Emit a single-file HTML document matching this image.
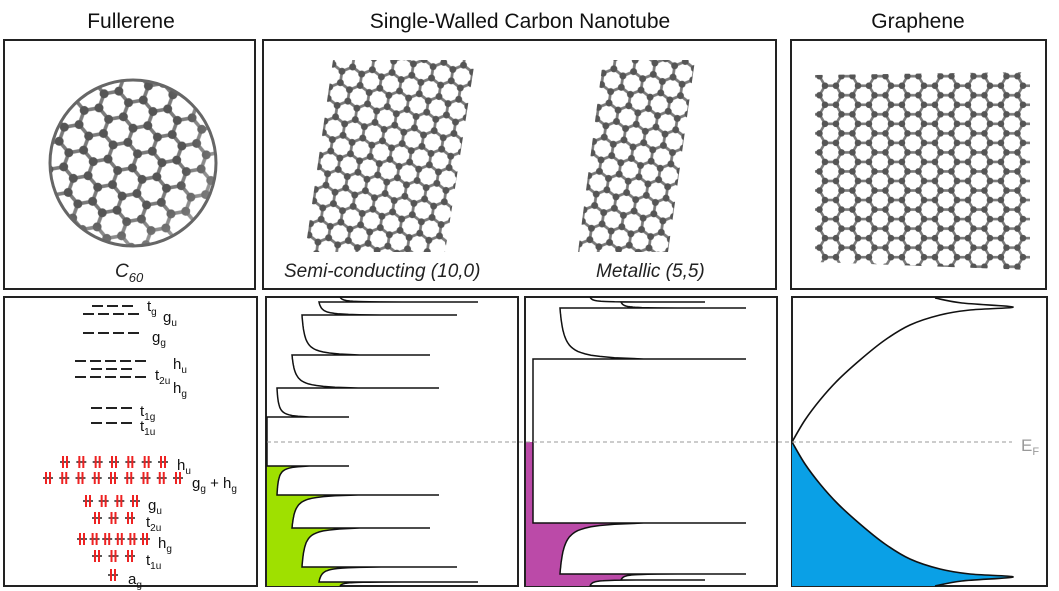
<!DOCTYPE html>
<html><head><meta charset="utf-8"><style>
body{margin:0;background:#fff;width:1059px;height:591px;overflow:hidden;font-family:"Liberation Sans",sans-serif}
svg{display:block}
</style></head><body>
<svg id="fig" width="1059" height="591" viewBox="0 0 1059 591">
<defs>
<pattern id="hex" width="17.32" height="30" patternUnits="userSpaceOnUse">
<path d="M8.66,0 L17.32,5 L17.32,15 L8.66,20 L0,15 L0,5 Z M8.66,20 L8.66,30" fill="none" stroke="#7a7a7a" stroke-width="2.4"/>
<g fill="#555"><circle cx="8.66" cy="0" r="3"/><circle cx="17.32" cy="5" r="3"/><circle cx="17.32" cy="15" r="3"/><circle cx="8.66" cy="20" r="3"/><circle cx="0" cy="15" r="3"/><circle cx="0" cy="5" r="3"/><circle cx="8.66" cy="30" r="3"/></g>
</pattern>
<pattern id="hexT" href="#hex" patternTransform="rotate(8) scale(1.15)"/>
<pattern id="hexG" href="#hex" patternTransform="rotate(90) scale(1.1)"/>
<pattern id="hexF" href="#hex" patternTransform="rotate(20) scale(1.5)"/>
<radialGradient id="shade" cx="0.4" cy="0.4" r="0.7"><stop offset="0.6" stop-color="#fff" stop-opacity="0"/><stop offset="1" stop-color="#fff" stop-opacity="0.3"/></radialGradient>
</defs>

<g font-size="21" fill="#111" text-anchor="middle">
<text x="131" y="28">Fullerene</text>
<text x="520" y="28">Single-Walled Carbon Nanotube</text>
<text x="918" y="28">Graphene</text>
</g>

<g fill="none" stroke="#222" stroke-width="2">
<rect x="4" y="40" width="251" height="249"/>
<rect x="263" y="40" width="513" height="249"/>
<rect x="791" y="40" width="255" height="249"/>
<rect x="4" y="297" width="253" height="289"/>
<rect x="266" y="297" width="252" height="289"/>
<rect x="525" y="297" width="252" height="289"/>
<rect x="792" y="297" width="255" height="289"/>
</g>

<g>
<circle cx="133" cy="163" r="83" fill="url(#hexF)"/>
<circle cx="133" cy="163" r="83" fill="url(#shade)" stroke="#666" stroke-width="3"/>
</g>
<polygon points="333,60 475,60 445,252 305,252" fill="url(#hexT)"/>
<polygon points="603,60 695,60 668,252 578,252" fill="url(#hexT)"/>
<polygon points="815,75 1030,72 1030,270 815,262" fill="url(#hexG)"/>

<g font-size="19" font-style="italic" fill="#222">
<text x="115" y="277">C<tspan font-size="13" dy="5">60</tspan></text>
<text x="284" y="277">Semi-conducting (10,0)</text>
<text x="596" y="277">Metallic (5,5)</text>
</g>

<g id="levels"></g>
<g id="dos"></g>
</svg>
<script>
// ---- Fullerene levels ----
const levelY=[306,314,333,361,369,377,408,423];
const levelCount=[3,4,4,5,3,5,3,3];
const levelX0=[92,83,83,75,91,75,91,91];
const occY=[462,478,501,518,539,556,575];
const occCount=[7,9,4,3,6,3,1];
const occX0=[60,43,83,92,77,92,108];
const occX1=[168,183,140,135,150,135,118];
const labels=[
 ["t","g",147,306],["g","u",163,317],["g","g",152,337],["h","u",173,364],["t","2u",155,375],["h","g",173,388],
 ["t","1g",140,411],["t","1u",140,426],["h","u",177,465],["g","g",192,483],["g","u",148,505],["t","2u",146,522],
 ["h","g",158,543],["t","1u",146,560],["a","g",128,579]];
const NS="http://www.w3.org/2000/svg";
const lv=document.getElementById('levels');
function mk(tag,attrs,parent){const e=document.createElementNS(NS,tag);for(const k in attrs)e.setAttribute(k,attrs[k]);parent.appendChild(e);return e;}
levelY.forEach((y,i)=>{for(let j=0;j<levelCount[i];j++){
 const l=mk('line',{x1:levelX0[i]+j*15,x2:levelX0[i]+j*15+11,y1:y,y2:y,stroke:'#222','stroke-width':2},lv);
 
 }});
occY.forEach((y,i)=>{const n=occCount[i];const step=n>1?(occX1[i]-occX0[i]-10)/(n-1):0;
 for(let j=0;j<n;j++){
 const x=occX0[i]+j*step+5;
 const g=mk('g',{},lv);
 
 
 mk('line',{x1:x-5,x2:x+5,y1:y,y2:y,stroke:'#222','stroke-width':1.5},g);
 mk('line',{x1:x-2,x2:x-2,y1:y-6,y2:y+6,stroke:'#e22','stroke-width':2},g);
 mk('line',{x1:x+2,x2:x+2,y1:y-6,y2:y+6,stroke:'#e22','stroke-width':2},g);}});
labels.forEach(L=>{const t=mk('text',{x:L[2],y:L[3]+5,'font-size':15,fill:'#111'},lv);
 
 
 t.textContent=L[0];const s=mk('tspan',{'font-size':10,dy:4},t);s.textContent=L[1];
 if(L[3]===483){const s2=mk('tspan',{dy:-4},t);s2.textContent=' + h';const s3=mk('tspan',{'font-size':10,dy:4},t);s3.textContent='g';}});

// ---- DOS data (energy in units, Ef=0) ----
const semiCondE=[0.5,1.08,1.74,2.54,2.8];
const semiValE=[-0.48,-1.06,-1.72,-2.5,-2.8];
const semiTips=[0.82,1.72,1.63,1.90,2.11];
const semiBases=[0.10,0.25,0.35,0.52,0.73];
const metFlat=0.07;
const metCondE=[1.66,2.68,2.8];
const metValE=[-1.62,-2.64,-2.76];
const metTips=[2.2,2.2,1.79];
const metBases=[0.34,0.95,0.64];
const grapheneE=[0,0.44,0.84,1.24,1.64,2.04,2.34,2.54,2.64,2.7];
const grapheneD=[0,0.13,0.28,0.46,0.68,0.93,1.18,1.48,1.78,2.21];
const EF_Y=442, PX_E=50, PX_D=100, E_TOP=2.9, E_BOT=-2.88;
function yE(e){return EF_Y-e*PX_E;}
function xD(left,d){return left+d*PX_D;}

const dos=document.getElementById('dos');
function band(left,flat,spikes,tips,bases,endE){
 const pts=[[xD(left,flat),yE(0)]];
 for(let i=0;i<spikes.length;i++){
  const e=spikes[i];
  pts.push([pts[pts.length-1][0],yE(e)]);
  pts.push([xD(left,tips[i]),yE(e)]);
  const eN=i+1<spikes.length?spikes[i+1]:endE;
  const C=(tips[i]-bases[i])*0.45,k=0.05,n=k/(1+k);
  for(let j=0;j<=40;j++){const t=j/40;
   const d=bases[i]+C*(k/(t+k)-n)/(1-n);
   pts.push([xD(left,d),yE(e+(eN-e)*t)]);}
 }
 return pts;
}
function poly(pts){return pts.map((p,i)=>(i?'L':'M')+p[0].toFixed(1)+','+p[1].toFixed(1)).join(' ');}
function drawBand(pts,left,endE,fill,name){
 if(fill){const f=mk('path',{d:poly(pts)+' L'+left+','+yE(endE)+' L'+left+','+yE(0)+' Z',fill:fill,stroke:'none'},dos);
  
  }
 const p=mk('path',{d:poly(pts),fill:'none',stroke:'#111','stroke-width':1.5},dos);
 
 
}
const SL=267, ML=526;
drawBand(band(SL,0,semiValE,semiTips,semiBases,E_BOT),SL,E_BOT,'#9fe000','semi-valence-dos');
drawBand(band(SL,0,semiCondE,semiTips,semiBases,E_TOP),SL,E_TOP,null,'semi-conduction-dos');
drawBand(band(ML,metFlat,metValE,metTips,metBases,E_BOT),ML,E_BOT,'#bb4aa8','metallic-valence-dos');
drawBand(band(ML,metFlat,metCondE,metTips,metBases,E_TOP),ML,E_TOP,null,'metallic-conduction-dos');

// graphene
const GL=792;
function gPts(sign){const pts=grapheneE.map((e,i)=>[xD(GL,grapheneD[i]),yE(sign*e)]);
 pts.push([xD(GL,1.7),yE(sign*2.78)]);pts.push([xD(GL,1.43),yE(sign*2.88)]);return pts;}
function smooth(pts){let d='M'+pts[0][0]+','+pts[0][1];
 for(let i=0;i<pts.length-1;i++){const p0=pts[Math.max(0,i-1)],p1=pts[i],p2=pts[i+1],p3=pts[Math.min(pts.length-1,i+2)];
  d+=' C'+(p1[0]+(p2[0]-p0[0])/6).toFixed(1)+','+(p1[1]+(p2[1]-p0[1])/6).toFixed(1)+' '+(p2[0]-(p3[0]-p1[0])/6).toFixed(1)+','+(p2[1]-(p3[1]-p1[1])/6).toFixed(1)+' '+p2[0].toFixed(1)+','+p2[1].toFixed(1);}
 return d;}
const gv=gPts(-1);
const gf=mk('path',{d:smooth(gv)+' L'+GL+','+yE(E_BOT)+' Z',fill:'#0aa0e6',stroke:'none'},dos);


[[gv,'graphene-valence-dos'],[gPts(1),'graphene-conduction-dos']].forEach(a=>{
 const p=mk('path',{d:smooth(a[0]),fill:'none',stroke:'#111','stroke-width':1.6},dos);
 
 });

const ef=mk('line',{x1:267,x2:1012,y1:EF_Y,y2:EF_Y,stroke:'#999','stroke-width':1,'stroke-dasharray':'4,3'},dos);


const eft=mk('text',{x:1021,y:EF_Y+9,'font-size':17,fill:'#999'},dos);


eft.textContent='E';const ft=mk('tspan',{'font-size':11,dy:4},eft);ft.textContent='F';
</script>
</body></html>
